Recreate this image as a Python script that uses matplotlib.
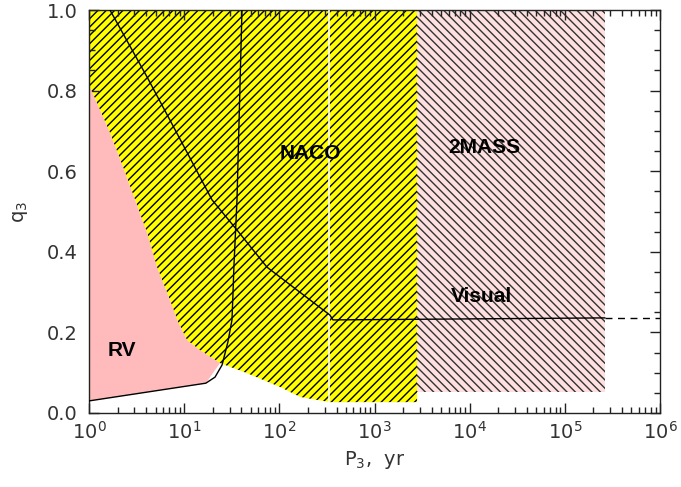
import numpy as np
import matplotlib.pyplot as plt
from matplotlib.ticker import LogLocator, MultipleLocator, NullFormatter

plt.rcParams['font.family'] = 'DejaVu Sans'
plt.rcParams['hatch.linewidth'] = 1.0

# RV region (pink, filled)
rv_x = [1.0, 1.66, 2.28, 3.04, 4.07, 5.18, 7.09, 8.6, 10.7, 14.6, 23.8, 16.9, 1.0]
rv_y = [0.814, 0.695, 0.610, 0.529, 0.447, 0.362, 0.280, 0.226, 0.181, 0.156, 0.124, 0.074, 0.030]

# NACO region (yellow, hatched): lower edge from right to left
naco_x = [1.0, 2800, 2800, 340, 165, 101, 45.7, 23.8, 14.6, 10.7, 8.6, 7.09, 5.18, 4.07, 3.04, 2.28, 1.66, 1.0]
naco_y = [1.0, 1.0, 0.027, 0.027, 0.040, 0.065, 0.099, 0.124, 0.156, 0.181, 0.226, 0.280, 0.362, 0.447, 0.529, 0.610, 0.695, 0.814]

# 2MASS region
mass_x = [2800, 2.63e5]
mass_y = [0.052, 1.0]

# detection limit curves
lim1_x = [1.0, 16.9, 21.1, 25.0, 28.8, 31.8, 32.6, 33.3, 35.9, 40.5]
lim1_y = [0.030, 0.074, 0.089, 0.119, 0.176, 0.231, 0.298, 0.362, 0.529, 1.0]

lim2_x = [1.66, 4.07, 9.03, 19.6, 35.9, 74.1, 340, 366, 2.63e5]
lim2_y = [1.0, 0.834, 0.680, 0.529, 0.454, 0.362, 0.243, 0.231, 0.236]
lim2_dash_x = [2.63e5, 1e6]
lim2_dash_y = [0.236, 0.236]

white_x = 332

labels = ['RV', 'NACO', '2MASS', 'Visual']
label_x = [2.22, 210, 14400, 13400]
label_y = [0.156, 0.645, 0.658, 0.288]

fig = plt.figure(figsize=(6.81, 4.87), dpi=100)
ax = fig.add_axes([89 / 681, 1 - 413 / 487, (660 - 89) / 681, (413 - 10) / 487])

ax.fill(naco_x, naco_y, facecolor='#ffff00', edgecolor='black', hatch='////', linewidth=0, zorder=1)
ax.fill([mass_x[0], mass_x[1], mass_x[1], mass_x[0]], [mass_y[0], mass_y[0], mass_y[1], mass_y[1]],
        facecolor='#ffe0e0', edgecolor='#333333', hatch='\\\\\\\\', linewidth=0, zorder=1)
ax.fill(rv_x, rv_y, facecolor='#ffbbbb', edgecolor='none', linewidth=0, zorder=2)
ax.plot([white_x, white_x], [0.027, 1.0], color='white', lw=1.2, zorder=3)

ax.plot(lim1_x, lim1_y, color='black', lw=1.0, zorder=4)
ax.plot(lim2_x, lim2_y, color='black', lw=1.0, zorder=4)
ax.plot(lim2_dash_x, lim2_dash_y, color='black', lw=1.0, ls=(0, (5, 4)), zorder=4)

for t, x, y in zip(labels, label_x, label_y):
    ax.text(x, y, t, ha='center', va='center', fontsize=15, fontweight='bold',
            family='Liberation Sans', color='black', zorder=5)

ax.set_xscale('log')
ax.set_xlim(1, 1e6)
ax.set_ylim(0, 1.0)
ax.set_xticks([10.0 ** k for k in range(7)])
ax.set_xticklabels([r'$10^{%d}$' % k for k in range(7)])
ax.xaxis.set_minor_locator(LogLocator(base=10, subs=np.arange(2, 10), numticks=20))
ax.xaxis.set_minor_formatter(NullFormatter())
ax.yaxis.set_minor_locator(MultipleLocator(0.05))
ax.set_yticks([0, 0.2, 0.4, 0.6, 0.8, 1.0])
ax.set_yticklabels(['0.0', '0.2', '0.4', '0.6', '0.8', '1.0'])

ax.tick_params(which='both', direction='in', top=True, right=True, colors='#222222',
               labelcolor='#333333', labelsize=14)
ax.tick_params(which='major', length=7, width=1)
ax.tick_params(which='minor', length=4, width=1)
ax.tick_params(axis='x', pad=6)
ax.tick_params(axis='y', pad=8)
for s in ax.spines.values():
    s.set_color('#222222')
    s.set_linewidth(1.0)

ax.set_xlabel('P$_3$,  yr', fontsize=14, color='#333333', labelpad=4)
ax.set_ylabel('q$_3$', fontsize=14, color='#333333', labelpad=12)

plt.savefig('out.png', dpi=100)
